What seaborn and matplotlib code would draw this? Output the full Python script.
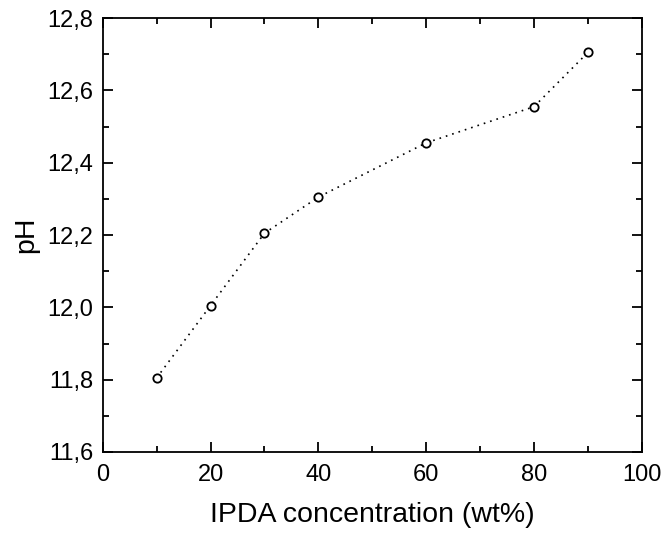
import matplotlib
matplotlib.use("Agg")
import matplotlib.pyplot as plt
import seaborn as sns
import pandas as pd
from matplotlib.ticker import MultipleLocator, FuncFormatter

conc = [10, 20, 30, 40, 60, 80, 90]
ph = [11.805, 12.005, 12.205, 12.305, 12.455, 12.555, 12.705]

df = pd.DataFrame({"conc": conc, "ph": ph})

sns.set_theme(style="ticks")
plt.rcParams['font.family'] = ['Liberation Sans', 'DejaVu Sans']

fig = plt.figure(figsize=(6.63, 5.33), dpi=100)
ax = fig.add_axes([0.155, 0.152, 0.813, 0.814])

sns.lineplot(data=df, x="conc", y="ph", ax=ax, color="black", linestyle=(0, (1, 3)),
             linewidth=1.2, marker="o", markersize=6, markerfacecolor="white",
             markeredgecolor="black", markeredgewidth=1.3)

ax.set_xlim(0, 100)
ax.set_ylim(11.6, 12.8)
ax.xaxis.set_major_locator(MultipleLocator(20))
ax.xaxis.set_minor_locator(MultipleLocator(10))
ax.yaxis.set_major_locator(MultipleLocator(0.2))
ax.yaxis.set_minor_locator(MultipleLocator(0.1))
ax.yaxis.set_major_formatter(FuncFormatter(lambda v, p: f"{v:.1f}".replace(".", ",")))

ax.tick_params(which="both", direction="in", top=True, right=True, width=1.3,
               colors="black", labelcolor="black")
ax.tick_params(which="major", length=7, labelsize=17)
ax.tick_params(axis="y", which="major", pad=7)
ax.tick_params(axis="x", which="major", pad=9)
ax.tick_params(which="minor", length=4)
for s in ax.spines.values():
    s.set_linewidth(1.3)
    s.set_color("black")

ax.set_xlabel("IPDA concentration (wt%)", fontsize=20.5, labelpad=11, color="black")
ax.set_ylabel("pH", fontsize=20.5, labelpad=6, color="black")

fig.savefig("out.png", dpi=100)
